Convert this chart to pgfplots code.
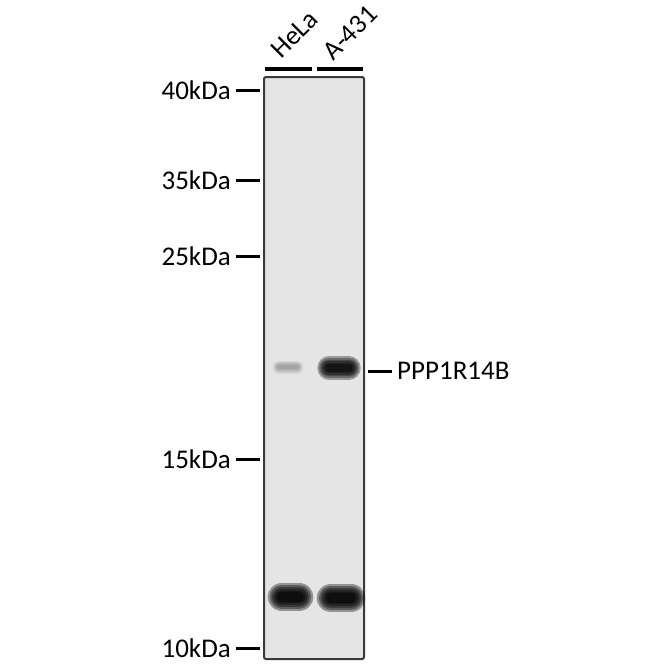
\documentclass[border=0pt]{standalone}
\usepackage{pgfplots}
\pgfplotsset{compat=1.18}
\usepackage{fontspec}
\setmainfont{Carlito}
\definecolor{blotbg}{RGB}{229,229,229}
\definecolor{blotframe}{RGB}{58,58,58}
\tikzset{lbl/.style={font=\fontsize{27}{30}\selectfont, inner sep=0pt}}

% one band: x from, x to, y, thickness (pt), opacity of each layer
\newcommand\band[5]{%
  \pgfplotsinvokeforeach{1.3,1.1,0.92,0.75,0.58,0.42}{%
    \addplot[draw=black, line width=##1*#4pt, opacity=#5, line cap=round, forget plot]
      coordinates {(#1,#3) (#2,#3)};
  }}

\begin{document}
\begin{tikzpicture}
\begin{axis}[
  width=670pt, height=670pt, scale only axis,
  xmin=0, xmax=670, ymin=0, ymax=670, y dir=reverse,
  hide axis, clip=false,
]
% membrane
\addplot[draw=blotframe, fill=blotbg, line width=2pt, rounded corners=2pt]
  coordinates {(264,77) (364,77) (364,659) (264,659)} -- cycle;

% lane bars
\addplot[black, line width=3.5pt] coordinates {(265,69) (312,69)};
\addplot[black, line width=3.5pt] coordinates {(317,69) (363,69)};

% marker dashes
\pgfplotsinvokeforeach{90,180,256,459,648}{%
  \addplot[black, line width=3pt] coordinates {(236,#1) (260,#1)};
}
\addplot[black, line width=3pt] coordinates {(368,371) (392,371)};

% bands
\band{279}{297}{367}{10}{0.05}
\band{329}{349}{368}{18}{0.32}
\band{282}{299}{597}{22}{0.36}
\band{331}{351}{598}{22}{0.36}

% texts
\node[lbl, anchor=east] at (axis cs:231,90) {40kDa};
\node[lbl, anchor=east] at (axis cs:231,180) {35kDa};
\node[lbl, anchor=east] at (axis cs:231,256) {25kDa};
\node[lbl, anchor=east] at (axis cs:231,459) {15kDa};
\node[lbl, anchor=east] at (axis cs:231,648) {10kDa};
\node[lbl, anchor=west] at (axis cs:397,371) {PPP1R14B};
\node[lbl, anchor=base west, rotate=45] at (axis cs:281,60) {HeLa};
\node[lbl, anchor=base west, rotate=45] at (axis cs:333,62) {A-431};
\end{axis}
\pgfresetboundingbox
\useasboundingbox (current axis.south west) rectangle (current axis.north east);
\end{tikzpicture}
\end{document}
